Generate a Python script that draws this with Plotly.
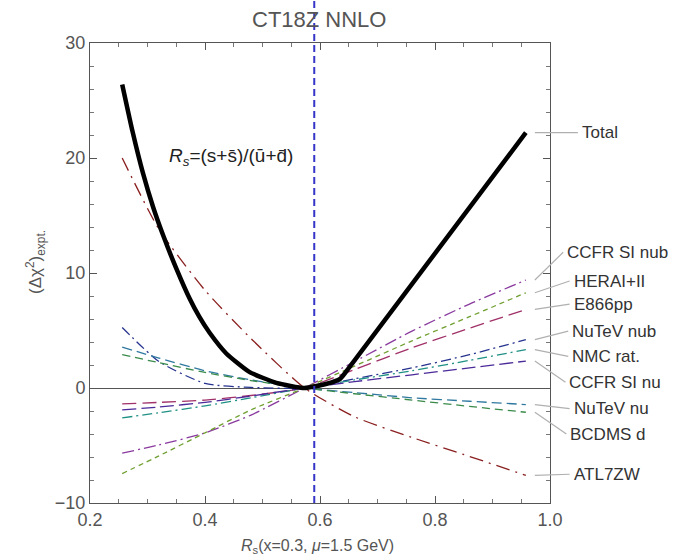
import plotly.graph_objects as go

# ---------------- data ----------------
rs_total = [0.256, 0.274, 0.292, 0.31, 0.327, 0.35, 0.373, 0.39, 0.408, 0.437, 0.477, 0.524,
            0.573, 0.61, 0.635, 0.648, 0.958]
chi2_total = [26.4, 22.3, 18.7, 15.7, 13.3, 10.4, 7.8, 6.2, 4.8, 3.0, 1.4, 0.45,
              0.0, 0.35, 0.8, 1.6, 22.2]

rs_grid = [0.256, 0.32, 0.40, 0.48, 0.573, 0.66, 0.76, 0.86, 0.958]
atl7zw = [20.0, 13.8, 8.5, 4.3, 0.0, -2.5, -4.3, -5.95, -7.6]
ccfr_si_nub = [-5.66, -4.95, -3.9, -2.35, 0.0, 2.3, 4.95, 7.3, 9.39]
herai = [-7.44, -5.9, -3.9, -1.9, 0.0, 1.9, 4.1, 6.2, 8.28]
e866pp = [-1.38, -1.25, -1.05, -0.65, 0.0, 1.6, 3.5, 5.2, 6.83]
nutev_nub = [5.26, 2.3, 0.4, 0.05, 0.0, 0.8, 1.75, 2.9, 4.2]
nmc_rat = [-2.6, -2.15, -1.55, -0.85, 0.0, 0.7, 1.5, 2.4, 3.34]
ccfr_si_nu = [-1.9, -1.65, -1.25, -0.7, 0.0, 0.55, 1.15, 1.75, 2.34]
nutev_nu = [3.56, 2.6, 1.5, 0.7, 0.0, -0.4, -0.85, -1.15, -1.44]
bcdms_d = [2.9, 2.2, 1.35, 0.65, 0.0, -0.5, -1.05, -1.6, -2.11]

rs_central = 0.59

x_range = [0.2, 1.0]
y_range = [-10, 30]
x_ticks = [0.2, 0.4, 0.6, 0.8, 1.0]
x_ticklabels = ["0.2", "0.4", "0.6", "0.8", "1.0"]
y_ticks = [-10, 0, 10, 20, 30]
y_ticklabels = ["\u221210", "0", "10", "20", "30"]

# name, values, color, dash, label y (data units), label left (paper x)
series = [
    ("CCFR SI nub", ccfr_si_nub, "#8a3a9e", "12px,4px,2px,4px", 11.8, 1.033),
    ("HERAI+II", herai, "#6f9f2f", "5px,4px", 9.3, 1.047),
    ("E866pp", e866pp, "#a03068", "14px,6px", 7.3, 1.047),
    ("NuTeV nub", nutev_nub, "#27348f", "10px,4px,2px,4px", 4.95, 1.044),
    ("NMC rat.", nmc_rat, "#1f9084", "10px,4px,2px,4px", 2.75, 1.044),
    ("CCFR SI nu", ccfr_si_nu, "#4b2a9a", "14px,5px", 0.5, 1.038),
    ("NuTeV nu", nutev_nu, "#2f78a0", "10px,5px", -1.8, 1.047),
    ("BCDMS d", bcdms_d, "#3a8a4a", "8px,5px", -4.0, 1.040),
    ("ATL7ZW", atl7zw, "#8a1f1f", "14px,6px,2px,6px", -7.5, 1.047),
]
total_label_y = 22.2
total_label_x = 1.065

FONT = "Liberation Sans, Arial, sans-serif"

fig = go.Figure()

for name, vals, color, dash, ly, lx in series:
    fig.add_trace(go.Scatter(
        x=rs_grid, y=vals, mode="lines", name=name,
        line=dict(color=color, width=1.3, dash=dash, shape="spline", smoothing=0.6),
        showlegend=False, hoverinfo="skip"))

fig.add_trace(go.Scatter(
    x=rs_total, y=chi2_total, mode="lines", name="Total",
    line=dict(color="black", width=4.5, shape="spline", smoothing=0.5),
    showlegend=False, hoverinfo="skip"))

W_PLOT = 460.0


def to_paper(xv):
    return (xv - x_range[0]) / (x_range[1] - x_range[0])


shapes = []
annotations = []

# leader lines + labels
end_x = to_paper(rs_grid[-1]) + 9 / W_PLOT
for name, vals, color, dash, ly, lx in series:
    shapes.append(dict(type="line", xref="paper", yref="y",
                       x0=end_x, y0=vals[-1], x1=lx - 2 / W_PLOT, y1=ly,
                       line=dict(color="#b0b0b0", width=1.2)))
    annotations.append(dict(text=name, xref="paper", yref="y", x=lx, y=ly,
                            xanchor="left", yanchor="middle", showarrow=False,
                            font=dict(family=FONT, size=17, color="#333333")))

shapes.append(dict(type="line", xref="paper", yref="y",
                   x0=to_paper(rs_total[-1]) + 9 / W_PLOT, y0=chi2_total[-1],
                   x1=total_label_x - 2 / W_PLOT, y1=total_label_y,
                   line=dict(color="#b0b0b0", width=1.2)))
annotations.append(dict(text="Total", xref="paper", yref="y", x=total_label_x, y=total_label_y,
                        xanchor="left", yanchor="middle", showarrow=False,
                        font=dict(family=FONT, size=17, color="#333333")))

# central value dashed line (extends above the frame)
shapes.append(dict(type="line", xref="x", yref="paper", x0=rs_central, x1=rs_central,
                   y0=0, y1=1.095, line=dict(color="#3535c8", width=2, dash="7px,4px")))

# formula
annotations.append(dict(text="<i>R<sub>s</sub></i>=(s+s\u0304)/(u\u0304+d\u0304)",
                        xref="x", yref="y", x=0.334, y=20.1, xanchor="left", yanchor="middle",
                        showarrow=False, font=dict(family=FONT, size=19, color="#222222")))

# title
annotations.append(dict(text="CT18Z NNLO", xref="paper", yref="paper", x=(319 - 90) / W_PLOT,
                        y=(503 - 19) / W_PLOT, xanchor="center", yanchor="middle", showarrow=False,
                        font=dict(family=FONT, size=22, color="#555555")))

# axis titles
annotations.append(dict(text="(\u0394\u03c7<sup>2</sup>)<sub>expt.</sub>", xref="paper", yref="paper",
                        x=-55 / W_PLOT, y=(503 - 262) / W_PLOT, xanchor="center", yanchor="middle",
                        textangle=-90, showarrow=False,
                        font=dict(family=FONT, size=17, color="#555555")))
annotations.append(dict(text="<i>R</i><sub>s</sub>(x=0.3, <i>\u03bc</i>=1.5 GeV)", xref="paper", yref="paper",
                        x=(317 - 90) / W_PLOT, y=-43 / W_PLOT, xanchor="center", yanchor="middle",
                        showarrow=False, font=dict(family=FONT, size=16, color="#555555")))

axis_common = dict(showline=True, linecolor="#555555", linewidth=1, mirror="ticks",
                   ticks="inside", ticklen=7, tickwidth=1, tickcolor="#555555",
                   showgrid=False, tickfont=dict(family=FONT, size=18, color="#555555"))

fig.update_xaxes(range=x_range, tickvals=x_ticks, ticktext=x_ticklabels, zeroline=False,
                 minor=dict(dtick=0.05, tick0=0.2, ticks="inside", ticklen=4, tickcolor="#777777"),
                 **axis_common)
fig.update_yaxes(range=y_range, tickvals=y_ticks, ticktext=y_ticklabels, zeroline=True,
                 zerolinecolor="#555555", zerolinewidth=1,
                 minor=dict(dtick=2, tick0=0, ticks="inside", ticklen=4, tickcolor="#777777"),
                 **axis_common)

fig.update_layout(width=678, height=558, margin=dict(l=90, r=128, t=43, b=55),
                  plot_bgcolor="white", paper_bgcolor="white",
                  shapes=shapes, annotations=annotations, showlegend=False)

fig.write_html("out.html", config={"displayModeBar": False},
               post_script="document.body.style.margin='0';document.body.style.overflow='hidden';")
